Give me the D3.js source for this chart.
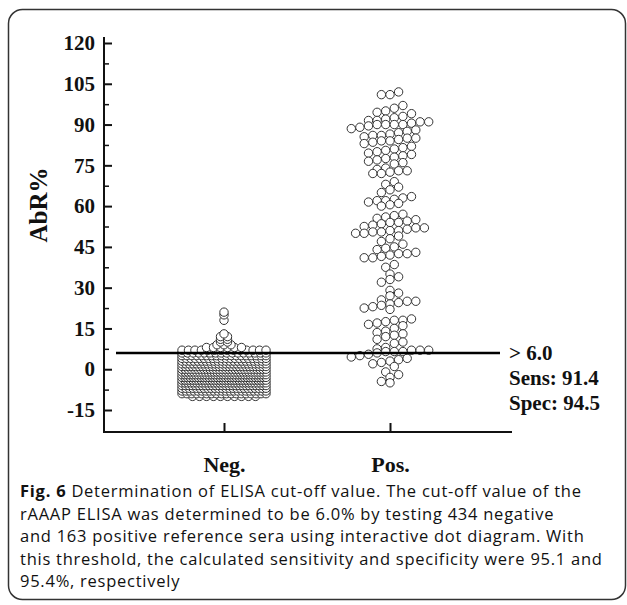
<!DOCTYPE html>
<html>
<head>
<meta charset="utf-8">
<script src="https://cdn.jsdelivr.net/npm/d3@7"></script>
<style>
  body { margin: 0; background: #fff; }
  svg text { fill: #111; }
  .serif { font-family: "Liberation Serif", "Times New Roman", serif; font-weight: bold; }
  .caption { font-family: "Open Sans", sans-serif; font-size: 16.5px; letter-spacing: 0.75px; }
</style>
</head>
<body>
<div id="chart-area"></div>
<script>
// categories and y ticks
const categories = ['Neg.', 'Pos.'];
const yTicks = [-15, 0, 15, 30, 45, 60, 75, 90, 105, 120];
const cutOff = 6.0;
const stats = ['> 6.0', 'Sens: 91.4', 'Spec: 94.5'];

// Negative sera: AbR% level and number of dots at that level
const negLevels = [-10, -9, -8, -7, -6, -5, -4, -3, -2, -1, 0, 1, 2, 3, 4, 5, 6,
                   7, 8, 9, 10, 11, 12, 13, 18, 20, 21];
const negCounts = [10, 18, 22, 24, 26, 30, 32, 32, 32, 30, 28, 26, 24, 22, 20, 18, 16,
                   14, 6, 3, 2, 2, 2, 1, 1, 1, 1];

// Positive sera: AbR% of each serum
const posValues = [
    102, 101, 101,
    97, 96, 95, 94.5, 94, 93, 92.5, 92,
    91.5, 91.5, 91, 91, 90.5, 90, 90, 90, 90,
    89.5, 89, 88.5, 88, 87.5, 87, 86.5, 86, 86, 85.5, 85, 85, 84.5, 84, 84, 83.5, 83,
    82, 81.5, 81, 80.5, 80, 79.5, 79, 78.5, 78, 77.5, 77,
    76.5, 76, 75.5, 74, 73.5, 73, 73, 72.5, 72, 72,
    69, 68, 67, 66, 65,
    63.5, 63, 62.5, 62, 62, 61.5, 61, 60.5, 60,
    57, 56.5, 56, 55.5, 55, 54.5, 54, 54,
    53.5, 53, 52.5, 52, 52, 51.5, 51, 51, 50.5, 50.5, 50, 50,
    49, 48, 47, 46, 45,
    44.5, 44, 43, 42.5, 42.5, 42, 41.5, 41, 41,
    38.5, 37.5,
    35, 34, 33, 32,
    29, 28, 27,
    25.5, 25, 25, 24.5, 24, 23.5, 23, 22.5, 22,
    18.5, 18, 18, 17.5, 17, 16.5, 16, 15,
    14, 13.5, 13, 12.5, 12,
    11, 10, 9.5,
    8, 7.5, 7, 7, 7, 6.5, 6.5, 6.5, 6,
    5.5, 5, 4.5, 4, 3.5, 3, 2.5, 2, 1,
    -1, -2, -3, -4.5, -5
];

const captionLines = [
    [['Fig. 6', true], [' Determination of ELISA cut-off value. The cut-off value of the', false]],
    [['rAAAP ELISA was determined to be 6.0% by testing 434 negative', false]],
    [['and 163 positive reference sera using interactive dot diagram. With', false]],
    [['this threshold, the calculated sensitivity and specificity were 95.1 and', false]],
    [['95.4%, respectively', false]]
];

const W = 627, H = 605;
const svg = d3.select('#chart-area')
    .append('svg')
    .attr('width', W)
    .attr('height', H);

// frame
svg.append('rect')
    .attr('x', 8.5).attr('y', 9.5)
    .attr('width', 617).attr('height', 590)
    .attr('rx', 14)
    .attr('fill', 'none')
    .attr('stroke', '#333')
    .attr('stroke-width', 1.5);

const axisLeftX = 104, axisBottomY = 432;

// Y Scale
const y = d3.scaleLinear()
    .domain([-15, 120])
    .range([410, 43]);

// X Scale
const x = d3.scalePoint()
    .domain(categories)
    .range([224, 390]);

// axis lines
svg.append('line')
    .attr('x1', axisLeftX).attr('x2', axisLeftX)
    .attr('y1', 37).attr('y2', axisBottomY + 1)
    .attr('stroke', '#111').attr('stroke-width', 2);
svg.append('line')
    .attr('x1', axisLeftX - 1).attr('x2', 512)
    .attr('y1', axisBottomY).attr('y2', axisBottomY)
    .attr('stroke', '#111').attr('stroke-width', 2);

// Y Axis
const yAxisGroup = svg.append('g')
    .attr('transform', 'translate(' + axisLeftX + ',0)')
    .call(d3.axisLeft(y).tickValues(yTicks).tickFormat(d => String(d))
        .tickSizeInner(-8).tickSizeOuter(0).tickPadding(9));
yAxisGroup.select('.domain').remove();
yAxisGroup.selectAll('line').attr('stroke', '#111').attr('stroke-width', 2);
yAxisGroup.selectAll('text')
    .attr('class', 'serif')
    .style('font-size', '21px');

// minor ticks
const minorGroup = svg.append('g')
    .attr('transform', 'translate(' + axisLeftX + ',0)')
    .call(d3.axisLeft(y).tickValues(d3.range(-7.5, 120, 15)).tickSizeInner(-5).tickSizeOuter(0).tickFormat(''));
minorGroup.select('.domain').remove();
minorGroup.selectAll('line').attr('stroke', '#111').attr('stroke-width', 1.5);

// X Axis
const xAxisGroup = svg.append('g')
    .attr('transform', 'translate(0,' + axisBottomY + ')')
    .call(d3.axisBottom(x).tickSizeInner(-9).tickSizeOuter(0).tickPadding(24));
xAxisGroup.select('.domain').remove();
xAxisGroup.selectAll('line').attr('stroke', '#111').attr('stroke-width', 2);
xAxisGroup.selectAll('text')
    .attr('class', 'serif')
    .style('font-size', '22px');

// axis title
svg.append('text')
    .attr('class', 'serif')
    .attr('transform', 'translate(47,205) rotate(-90)')
    .attr('text-anchor', 'middle')
    .style('font-size', '25px')
    .text('AbR%');

// dot layout: rows spread sideways around the category centre
const r = 4.2;
function spreadRow(vals, cx, maxW, gap) {
    const n = vals.length;
    const step = n > 1 ? Math.min(gap, maxW / (n - 1)) : 0;
    return vals.map((v, i) => ({ v: v, x: cx + (i - (n - 1) / 2) * step }));
}

let dots = [];
negLevels.forEach((lv, i) => {
    const vals = d3.range(negCounts[i]).map(() => lv);
    dots = dots.concat(spreadRow(vals, x('Neg.'), 84, 7));
});

const posRows = d3.groups(posValues, v => Math.round(v / 3));
posRows.forEach(([, vals]) => {
    vals.sort(d3.ascending);
    dots = dots.concat(spreadRow(vals, x('Pos.'), 80, 8.6));
});

svg.append('g')
    .selectAll('circle')
    .data(dots)
    .join('circle')
    .attr('cx', d => d.x)
    .attr('cy', d => y(d.v))
    .attr('r', r)
    .attr('fill', '#fff')
    .attr('stroke', '#333')
    .attr('stroke-width', 1);

// cut-off line
svg.append('line')
    .attr('x1', 116).attr('x2', 500)
    .attr('y1', y(cutOff)).attr('y2', y(cutOff))
    .attr('stroke', '#000')
    .attr('stroke-width', 2.5);

svg.append('g')
    .selectAll('text')
    .data(stats)
    .join('text')
    .attr('class', 'serif')
    .attr('x', 509)
    .attr('y', (d, i) => y(cutOff) + 7 + i * 25)
    .style('font-size', '21px')
    .text(d => d);

// caption
const cap = svg.append('g');
captionLines.forEach((parts, i) => {
    const t = cap.append('text')
        .attr('class', 'caption')
        .attr('x', 20)
        .attr('y', 497 + i * 22.5);
    parts.forEach(([s, bold]) => {
        t.append('tspan')
            .attr('font-weight', bold ? 'bold' : 'normal')
            .text(s);
    });
});
</script>
</body>
</html>
